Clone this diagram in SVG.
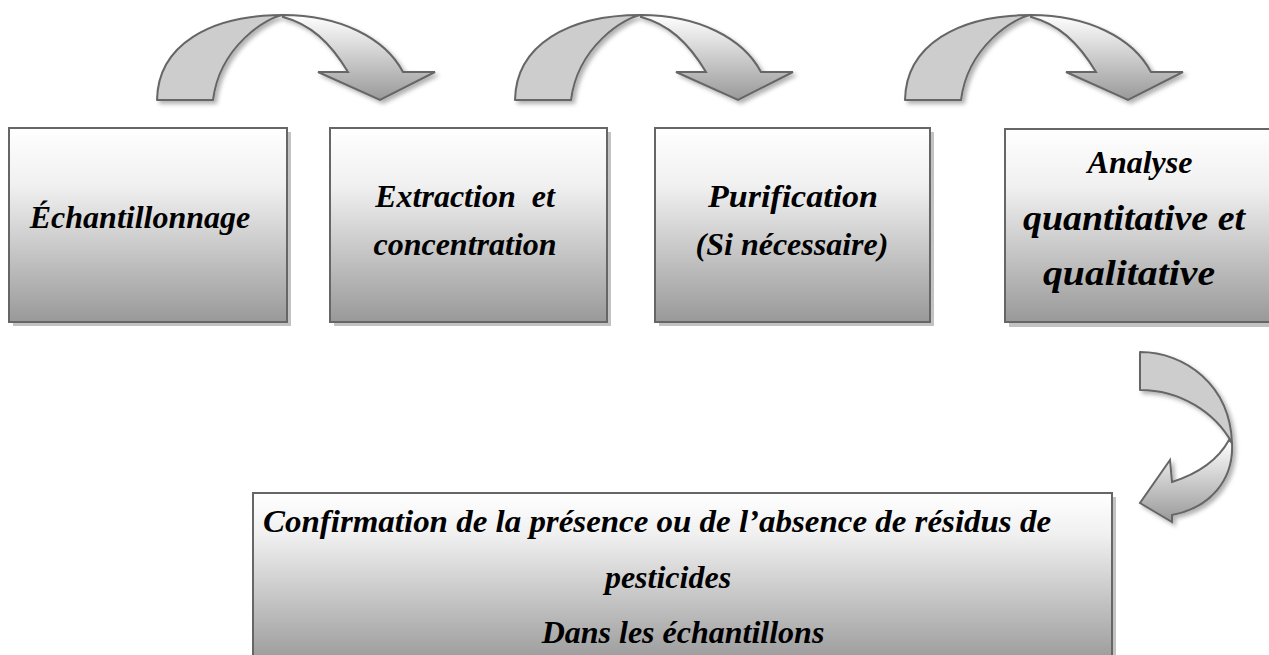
<svg xmlns="http://www.w3.org/2000/svg" width="1269" height="655" viewBox="0 0 1269 655">
<style>
.box{stroke:#666;stroke-width:2;fill:url(#boxGrad)}
.shadow{fill:#c2c2c2}
.lbl{font-family:"Liberation Serif","Times New Roman",serif;font-weight:bold;font-style:italic;font-size:32px;fill:#000;text-anchor:middle}
.big{font-size:35px}
.back{fill:#cdcdcd;stroke:#666;stroke-width:2;stroke-linejoin:round}
.front{fill:url(#arrGrad);stroke:#666;stroke-width:2;stroke-linejoin:miter}
</style>
<defs>
<linearGradient id="boxGrad" x1="0" y1="0" x2="0" y2="1">
<stop offset="0" stop-color="#ffffff"/>
<stop offset="0.3" stop-color="#f0f0f0"/>
<stop offset="1" stop-color="#999999"/>
</linearGradient>
<linearGradient id="bigGrad" gradientUnits="userSpaceOnUse" x1="0" y1="493" x2="0" y2="660">
<stop offset="0" stop-color="#ffffff"/>
<stop offset="0.25" stop-color="#f0f0f0"/>
<stop offset="1" stop-color="#9c9c9c"/>
</linearGradient>
<linearGradient id="arrGrad" x1="0" y1="0" x2="0" y2="1">
<stop offset="0" stop-color="#ffffff"/>
<stop offset="1" stop-color="#999999"/>
</linearGradient>
<filter id="soft" x="-10%" y="-10%" width="130%" height="130%">
<feDropShadow dx="3" dy="3" stdDeviation="2" flood-color="#000" flood-opacity="0.3"/>
</filter>
<g id="curvedArrow" filter="url(#soft)">
<path class="back" d="M157,100 C158,45 210,15 283,15 C268,17 220,45 213,100 Z"/>
<path class="front" d="M283,15 C340,15 385,38 403,72 L435,72 L380,100 L318,72 L348,72 C330,42 310,24 283,17 Z"/>
</g>
</defs>

<g id="connectors">
<use href="#curvedArrow"/>
<use href="#curvedArrow" transform="translate(358,0)"/>
<use href="#curvedArrow" transform="translate(748,0)"/>
<g filter="url(#soft)">
<path class="back" d="M1140,352 C1185,352 1230,385 1232,443 C1215,412 1180,390 1140,390 Z"/>
<path class="front" d="M1232,443 C1234,480 1210,508 1172,515 L1172,522 L1140,503 L1170,460 L1172,482 C1197,474 1218,460 1229,440 Z"/>
</g>
</g>

<g id="node1">
<rect class="shadow" x="13" y="132" width="278" height="194"/>
<rect class="box" x="9" y="128" width="278" height="194"/>
<text class="lbl" x="140" y="228">Échantillonnage</text>
</g>

<g id="node2">
<rect class="shadow" x="334" y="132" width="277" height="194"/>
<rect class="box" x="330" y="128" width="277" height="194"/>
<text class="lbl" x="465" y="207" xml:space="preserve">Extraction  et</text>
<text class="lbl" x="465" y="255">concentration</text>
</g>

<g id="node3">
<rect class="shadow" x="659" y="132" width="275" height="194"/>
<rect class="box" x="655" y="128" width="275" height="194"/>
<text class="lbl" x="793" y="207" textLength="170" lengthAdjust="spacingAndGlyphs">Purification</text>
<text class="lbl" x="792" y="255">(Si nécessaire)</text>
</g>

<g id="node4">
<rect class="shadow" x="1009" y="133" width="270" height="194"/>
<rect class="box" x="1005" y="129" width="270" height="193"/>
<text class="lbl" x="1140" y="173">Analyse</text>
<text class="lbl big" x="1134" y="230" textLength="222" lengthAdjust="spacingAndGlyphs">quantitative et</text>
<text class="lbl big" x="1129" y="285" textLength="172" lengthAdjust="spacingAndGlyphs">qualitative</text>
</g>

<g id="node5">
<rect class="shadow" x="257" y="497" width="859" height="170"/>
<rect class="box" style="fill:url(#bigGrad)" x="253" y="493" width="859" height="170"/>
<text class="lbl" x="657" y="532" textLength="788" lengthAdjust="spacingAndGlyphs">Confirmation de la présence ou de l’absence de résidus de</text>
<text class="lbl" x="668" y="588">pesticides</text>
<text class="lbl" x="683" y="643">Dans les échantillons</text>
</g>
</svg>
